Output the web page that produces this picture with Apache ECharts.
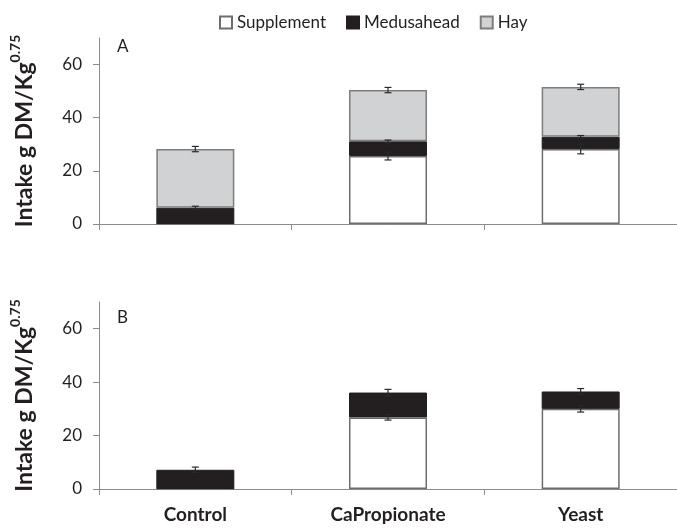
<!DOCTYPE html>
<html>
<head>
<meta charset="utf-8">
<script src="https://cdn.jsdelivr.net/npm/echarts@6/dist/echarts.min.js"></script>
<style>
html,body{margin:0;padding:0;background:#fff;}
#chart{width:677px;height:529px;}
</style>
</head>
<body>
<div id="chart"></div>
<script>
// ---- data ----
const categories = ['Control', 'CaPropionate', 'Yeast'];
const seriesNames = ['Supplement', 'Medusahead', 'Hay'];
const yTicks = [0, 20, 40, 60];

// Panel A
const aSupplement = [0, 25.6, 28.2];
const aMedusahead = [6.1, 5.5, 4.6];
const aHay = [22.1, 19.3, 18.8];
const aSupplementErr = [0, 1.5, 1.8];
const aMedusaheadErr = [0.6, 0.5, 0.5];
const aHayErr = [1.0, 1.0, 1.0];

// Panel B
const bSupplement = [0, 26.8, 30.0];
const bMedusahead = [7.2, 9.3, 6.5];
const bSupplementErr = [0, 1.0, 1.2];
const bMedusaheadErr = [1.0, 1.2, 1.1];

// ---- build ----
const FONT = 'Lato';
const TXT = '#231f20';
const AXIS = '#8c8c8c';
const styles = {
  Supplement: { color: '#ffffff', borderColor: '#6d6e70', borderWidth: 1.5 },
  Medusahead: { color: '#231f20', borderColor: '#231f20', borderWidth: 1 },
  Hay: { color: '#d1d2d4', borderColor: '#7d7d7d', borderWidth: 1.5 }
};

function errData(layers, errs) {
  const out = [];
  for (let c = 0; c < categories.length; c++) {
    let cum = 0;
    for (let l = 0; l < layers.length; l++) {
      cum += layers[l][c];
      if (layers[l][c] > 0 && errs[l][c] > 0) out.push([c, cum, errs[l][c]]);
    }
  }
  return out;
}

function errorSeries(idx, data) {
  return {
    type: 'custom',
    xAxisIndex: idx, yAxisIndex: idx,
    z: 10,
    silent: true,
    data: data,
    renderItem: function (params, api) {
      const c = api.value(0), v = api.value(1), e = api.value(2);
      const top = api.coord([c, v + e]);
      const bot = api.coord([c, v - e]);
      const hw = 3.5;
      const st = { stroke: '#2a2a2a', lineWidth: 1.2 };
      return {
        type: 'group',
        children: [
          { type: 'line', shape: { x1: top[0], y1: top[1], x2: bot[0], y2: bot[1] }, style: st },
          { type: 'line', shape: { x1: top[0] - hw, y1: top[1], x2: top[0] + hw, y2: top[1] }, style: st },
          { type: 'line', shape: { x1: bot[0] - hw, y1: bot[1], x2: bot[0] + hw, y2: bot[1] }, style: st }
        ]
      };
    }
  };
}

function bar(name, idx, data) {
  return {
    name: name, type: 'bar', stack: 'p' + idx,
    xAxisIndex: idx, yAxisIndex: idx,
    barWidth: 78,
    data: data,
    itemStyle: styles[name],
    emphasis: { disabled: true }
  };
}

function xAxis(idx, showLabel) {
  return {
    type: 'category', gridIndex: idx, data: categories,
    axisLine: { lineStyle: { color: AXIS, width: 1 } },
    axisTick: { show: true, length: 6, lineStyle: { color: AXIS } },
    axisLabel: {
      show: showLabel, margin: 16,
      fontFamily: FONT, fontWeight: 'bold', fontSize: 19, color: TXT
    }
  };
}

function yAxis(idx) {
  return {
    type: 'value', gridIndex: idx, min: 0, max: 70,
    splitLine: { show: false },
    axisLine: { show: true, lineStyle: { color: AXIS, width: 1 } },
    axisTick: { show: true, length: 6, lineStyle: { color: AXIS }, customValues: yTicks },
    axisLabel: { fontFamily: FONT, fontSize: 17, color: TXT, margin: 17, customValues: yTicks },
    name: '{a|Intake g DM/Kg}{b|0.75}',
    nameLocation: 'middle',
    nameRotate: 90,
    nameGap: 63,
    nameTextStyle: {
      rich: {
        a: { fontFamily: FONT, fontWeight: 'bold', fontSize: 23, color: TXT, lineHeight: 28, verticalAlign: 'bottom' },
        b: { fontFamily: FONT, fontWeight: 'bold', fontSize: 14, color: TXT, lineHeight: 28, verticalAlign: 'top' }
      }
    }
  };
}

const option = {
  animation: false,
  backgroundColor: '#ffffff',
  legend: {
    top: 9, left: 214,
    data: seriesNames,
    icon: 'rect',
    itemWidth: 12, itemHeight: 12,
    itemGap: 20,
    textStyle: { fontFamily: FONT, fontSize: 17, color: TXT }
  },
  grid: [
    { left: 99, top: 38, width: 583, height: 186 },
    { left: 99, top: 302, width: 583, height: 187 }
  ],
  xAxis: [xAxis(0, false), xAxis(1, true)],
  yAxis: [yAxis(0), yAxis(1)],
  graphic: [
    { type: 'text', left: 117, top: 38, style: { text: 'A', fontFamily: FONT, fontSize: 17, fill: TXT } },
    { type: 'text', left: 117, top: 309, style: { text: 'B', fontFamily: FONT, fontSize: 17, fill: TXT } }
  ],
  series: [
    bar('Supplement', 0, aSupplement),
    bar('Medusahead', 0, aMedusahead),
    bar('Hay', 0, aHay),
    bar('Supplement', 1, bSupplement),
    bar('Medusahead', 1, bMedusahead),
    errorSeries(0, errData([aSupplement, aMedusahead, aHay], [aSupplementErr, aMedusaheadErr, aHayErr])),
    errorSeries(1, errData([bSupplement, bMedusahead], [bSupplementErr, bMedusaheadErr]))
  ]
};

const chart = echarts.init(document.getElementById('chart'), null, { renderer: 'canvas' });
chart.setOption(option);
</script>
</body>
</html>
